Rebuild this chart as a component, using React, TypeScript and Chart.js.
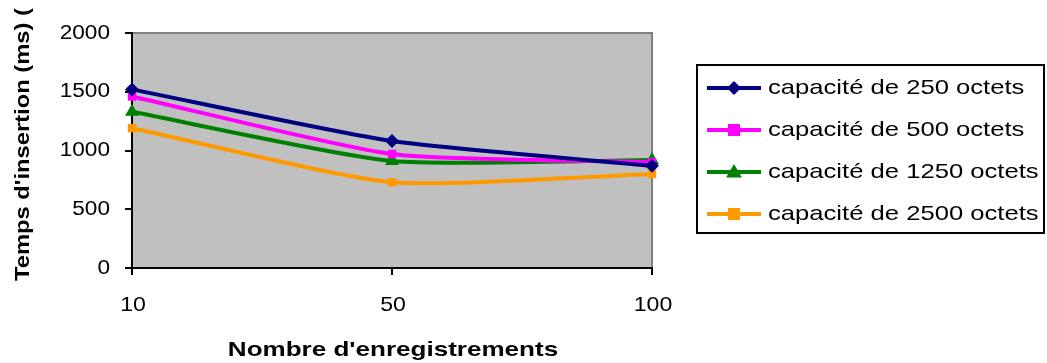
import React, { useEffect, useRef } from "react";
import { Chart, registerables } from "chart.js";

Chart.register(...registerables);

const categories = ["10", "50", "100"];
const seriesLabels = [
  "capacité de 250 octets",
  "capacité de 500 octets",
  "capacité de 1250 octets",
  "capacité de 2500 octets",
];
const cap250 = [1520, 1080, 870];
const cap500 = [1460, 970, 900];
const cap1250 = [1330, 910, 920];
const cap2500 = [1190, 730, 800];
const yTickValues = [0, 500, 1000, 1500, 2000];
const colors = ["#000080", "#FF00FF", "#008000", "#FF9900"];
const pointStyles = ["rectRot", "rect", "triangle", "rect"];
const yTitle = "Temps d'insertion (ms) (";
const xTitle = "Nombre d'enregistrements";

const FONT = "'Liberation Sans', Arial, sans-serif";

function drawText(
  ctx: CanvasRenderingContext2D,
  text: string,
  x: number,
  y: number,
  size: number,
  bold: boolean,
  sx: number,
  align: CanvasTextAlign
) {
  ctx.save();
  ctx.font = `${bold ? "bold " : ""}${size}px ${FONT}`;
  ctx.fillStyle = "#000";
  ctx.textBaseline = "middle";
  ctx.textAlign = align;
  ctx.translate(x, y);
  ctx.scale(sx, 1);
  ctx.fillText(text, 0, 0);
  ctx.restore();
}

function drawMarker(ctx: CanvasRenderingContext2D, style: string, x: number, y: number, color: string) {
  ctx.save();
  ctx.fillStyle = color;
  ctx.beginPath();
  if (style === "rectRot") {
    const r = 7;
    ctx.moveTo(x, y - r);
    ctx.lineTo(x + r, y);
    ctx.lineTo(x, y + r);
    ctx.lineTo(x - r, y);
  } else if (style === "triangle") {
    const r = 8;
    ctx.moveTo(x, y - r);
    ctx.lineTo(x + r, y + r * 0.7);
    ctx.lineTo(x - r, y + r * 0.7);
  } else {
    const r = 6;
    ctx.rect(x - r, y - r, 2 * r, 2 * r);
  }
  ctx.closePath();
  ctx.fill();
  ctx.restore();
}

const bgPlugin = {
  id: "plotBg",
  beforeDraw(chart: any) {
    const { ctx, chartArea: a } = chart;
    ctx.save();
    ctx.fillStyle = "#C0C0C0";
    ctx.fillRect(a.left, a.top, a.right - a.left, a.bottom - a.top);
    ctx.strokeStyle = "#808080";
    ctx.lineWidth = 2;
    ctx.beginPath();
    ctx.moveTo(a.left, a.top);
    ctx.lineTo(a.right, a.top);
    ctx.lineTo(a.right, a.bottom);
    ctx.stroke();
    ctx.restore();
  },
  afterDraw(chart: any) {
    const { ctx } = chart;
    const xs = chart.scales.x;
    const ys = chart.scales.y;
    // tick labels
    yTickValues.forEach((v) => {
      drawText(ctx, String(v), 110, ys.getPixelForValue(v), 20, false, 1.13, "right");
    });
    categories.forEach((c, i) => {
      drawText(ctx, c, xs.getPixelForValue(i) + 1, 305, 21, false, 1.1, "center");
    });
    // axis titles
    drawText(ctx, xTitle, 393, 350, 21, true, 1.24, "center");
    ctx.save();
    ctx.font = `bold 21px ${FONT}`;
    ctx.fillStyle = "#000";
    ctx.translate(23, 281);
    ctx.rotate(-Math.PI / 2);
    ctx.scale(1.13, 1);
    ctx.textAlign = "left";
    ctx.textBaseline = "middle";
    ctx.fillText(yTitle, 0, 0);
    ctx.restore();
    // legend
    ctx.save();
    ctx.strokeStyle = "#000";
    ctx.lineWidth = 2;
    ctx.strokeRect(697, 65, 347, 168);
    const rows = [88, 130, 172, 214];
    chart.data.datasets.forEach((ds: any, i: number) => {
      const y = rows[i];
      ctx.strokeStyle = ds.borderColor;
      ctx.lineWidth = 4;
      ctx.beginPath();
      ctx.moveTo(707, y);
      ctx.lineTo(761, y);
      ctx.stroke();
      drawMarker(ctx, ds.pointStyle, 734, y, ds.borderColor);
      drawText(ctx, ds.label, 768, y, 21, false, 1.22, "left");
    });
    ctx.restore();
  },
};

export default function App() {
  const ref = useRef<HTMLCanvasElement>(null);
  useEffect(() => {
    if (!ref.current) return;
    const values = [cap250, cap500, cap1250, cap2500];
    const chart = new Chart(ref.current, {
      type: "line",
      data: {
        labels: categories,
        datasets: values.map((v, i) => ({
          label: seriesLabels[i],
          data: v,
          borderColor: colors[i],
          backgroundColor: colors[i],
          pointBackgroundColor: colors[i],
          pointBorderColor: colors[i],
          pointStyle: pointStyles[i] as any,
          pointRadius: pointStyles[i] === "triangle" ? 8 : pointStyles[i] === "rectRot" ? 7 : 6,
          pointBorderWidth: 0,
          borderWidth: 4,
          tension: 0.2,
          clip: false as any,
        })),
      },
      options: {
        animation: false,
        responsive: false,
        maintainAspectRatio: false,
        layout: { padding: { top: 33, right: 395, left: 0, bottom: 0 } },
        plugins: { legend: { display: false }, tooltip: { enabled: false } },
        scales: {
          x: {
            type: "category",
            offset: false,
            afterFit(s: any) {
              s.height = 95;
            },
            grid: { drawOnChartArea: false, drawTicks: true, tickLength: 7, color: "#000", lineWidth: 2 },
            border: { color: "#000", width: 2 },
            ticks: { color: "rgba(0,0,0,0)", font: { size: 20, family: FONT }, maxRotation: 0, autoSkip: false },
          },
          y: {
            min: 0,
            max: 2000,
            afterFit(s: any) {
              s.width = 132;
            },
            grid: { drawOnChartArea: false, drawTicks: true, tickLength: 7, color: "#000", lineWidth: 2 },
            border: { color: "#000", width: 2 },
            ticks: { stepSize: 500, color: "rgba(0,0,0,0)", font: { size: 20, family: FONT } },
          },
        },
      },
      plugins: [bgPlugin],
    });
    return () => chart.destroy();
  }, []);
  return (
    <div style={{ position: "absolute", left: 0, top: 0 }}>
      <canvas ref={ref} width={1047} height={363} style={{ display: "block", width: 1047, height: 363 }} />
    </div>
  );
}
